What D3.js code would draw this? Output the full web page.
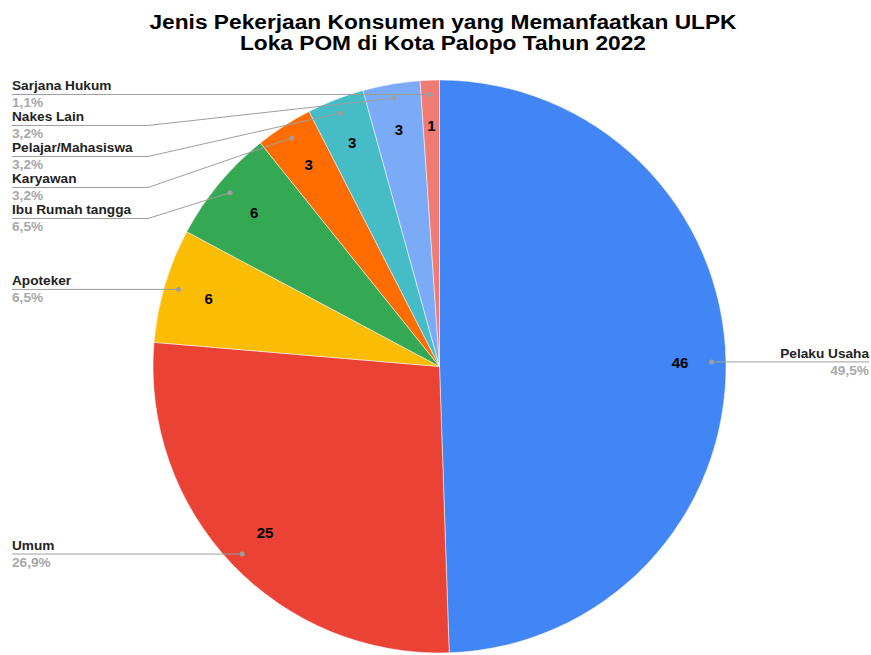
<!DOCTYPE html>
<html>
<head>
<meta charset="utf-8">
<script src="https://cdn.jsdelivr.net/npm/d3@7"></script>
<style>
  html, body { margin: 0; padding: 0; background: #fff; }
  svg { display: block; }
</style>
</head>
<body>
<svg id="chart" width="871" height="655"></svg>
<script>
// Jenis pekerjaan konsumen ULPK Loka POM Palopo 2022
const categories = ["Pelaku Usaha", "Umum", "Apoteker", "Ibu Rumah tangga", "Karyawan", "Pelajar/Mahasiswa", "Nakes Lain", "Sarjana Hukum"];
const values = [46, 25, 6, 6, 3, 3, 3, 1];
const colors = ["#4285f4", "#ea4335", "#fbbc04", "#34a853", "#ff6d01", "#46bdc6", "#7baaf7", "#f07b72"];
const titleLines = ["Jenis Pekerjaan Konsumen yang Memanfaatkan ULPK", "Loka POM di Kota Palopo Tahun 2022"];

const W = 871, H = 655;
const cx = 439.5, cy = 366.5, R = 286.5;
const font = "Arial, 'Liberation Sans', sans-serif";

const svg = d3.select("#chart");

// Widen a text element's glyphs horizontally by a factor
function stretch(sel, factor) {
  sel.each(function () {
    const len = this.getComputedTextLength();
    d3.select(this)
      .attr("textLength", len * factor)
      .attr("lengthAdjust", "spacingAndGlyphs");
  });
}

// Title
svg.append("g").selectAll("text").data(titleLines).join("text")
  .attr("x", 443)
  .attr("y", (d, i) => 29 + i * 21)
  .attr("text-anchor", "middle")
  .attr("font-family", font)
  .attr("font-weight", "bold")
  .attr("font-size", 19.5)
  .attr("fill", "#000")
  .text(d => d)
  .call(stretch, 1.165);

const total = d3.sum(values);
const data = categories.map((c, i) => ({ name: c, value: values[i], color: colors[i] }));

const pie = d3.pie().value(d => d.value).sort(null);
const arcs = pie(data);
const arc = d3.arc().innerRadius(0).outerRadius(R);
const dotArc = d3.arc().innerRadius(R * 0.95).outerRadius(R * 0.95);
const numArc = d3.arc().innerRadius(R * 0.84).outerRadius(R * 0.84);

const g = svg.append("g").attr("transform", `translate(${cx},${cy})`);

g.selectAll("path.slice").data(arcs).join("path")
  .attr("class", "slice")
  .attr("d", arc)
  .attr("fill", d => d.data.color)
  .attr("stroke", "#fff")
  .attr("stroke-width", 0.5);

// Values inside slices
g.selectAll("text.val").data(arcs).join("text")
  .attr("class", "val")
  .attr("transform", d => `translate(${numArc.centroid(d)})`)
  .attr("text-anchor", "middle")
  .attr("dy", "0.36em")
  .attr("font-family", font)
  .attr("font-weight", "bold")
  .attr("font-size", 15)
  .attr("fill", "#000")
  .text(d => d.data.value);

// Leader-line label layout
const fmtPct = v => (v / total * 100).toFixed(1).replace(".", ",") + "%";
const items = arcs.map(a => {
  const [dx, dy] = dotArc.centroid(a);
  return { a, dotX: cx + dx, dotY: cy + dy, right: dx > 0 };
});

const left = items.filter(d => !d.right).sort((p, q) => p.dotY - q.dotY);
let prev = -Infinity;
left.forEach(d => { d.lineY = Math.max(d.dotY, prev + 31); prev = d.lineY; });
items.filter(d => d.right).forEach(d => { d.lineY = d.dotY; });

const labels = svg.append("g");
const elbowX = 148;

items.forEach(d => {
  let pts;
  if (d.right) {
    pts = [[d.dotX, d.dotY], [869, d.lineY]];
  } else if (Math.abs(d.lineY - d.dotY) < 1) {
    pts = [[12, d.lineY], [d.dotX, d.dotY]];
  } else {
    pts = [[12, d.lineY], [elbowX, d.lineY], [d.dotX, d.dotY]];
  }
  labels.append("path")
    .attr("d", d3.line()(pts))
    .attr("fill", "none")
    .attr("stroke", "#9e9e9e")
    .attr("stroke-width", 1);
  labels.append("circle")
    .attr("cx", d.dotX).attr("cy", d.dotY).attr("r", 2.5)
    .attr("fill", "#9e9e9e");

  const tx = d.right ? 869 : 12;
  const anchor = d.right ? "end" : "start";
  labels.append("text")
    .attr("x", tx).attr("y", d.lineY - 4.3)
    .attr("text-anchor", anchor)
    .attr("font-family", font)
    .attr("font-weight", "bold")
    .attr("font-size", 13)
    .attr("fill", "#222")
    .text(d.a.data.name)
    .call(stretch, 1.05);
  labels.append("text")
    .attr("x", tx).attr("y", d.lineY + 13)
    .attr("text-anchor", anchor)
    .attr("font-family", font)
    .attr("font-weight", "bold")
    .attr("font-size", 13)
    .attr("fill", "#a8a8a8")
    .text(fmtPct(d.a.data.value))
    .call(stretch, 1.05);
});
</script>
</body>
</html>
